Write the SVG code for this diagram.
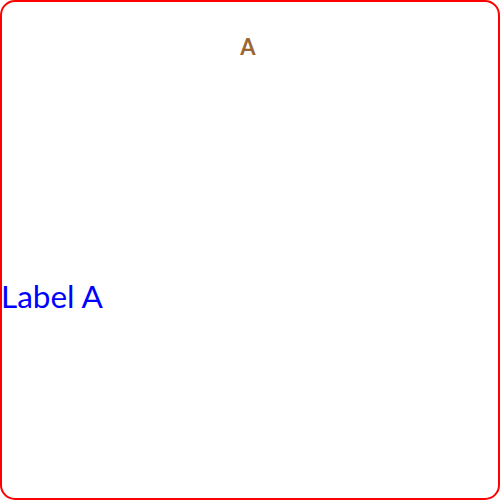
<svg xmlns="http://www.w3.org/2000/svg" width="500" height="500" viewBox="0 0 500 500">
<style>
.frame{fill:#fff;stroke:#ff0000;stroke-width:2}
.title{font-family:Lato,"Liberation Sans",sans-serif;font-weight:bold;font-size:22px;fill:#996633;text-anchor:middle}
.lbl{font-family:Lato,"Liberation Sans",sans-serif;font-size:31.5px;fill:#0000ff}
</style>
<g id="frame"><rect class="frame" x="1" y="1" width="498" height="498" rx="14" ry="14"/></g>
<g id="nodeA"><text class="title" x="248" y="55">A</text></g>
<g id="label"><text class="lbl" x="1" y="308">Label A</text></g>
<g id="connectors"></g>
</svg>
